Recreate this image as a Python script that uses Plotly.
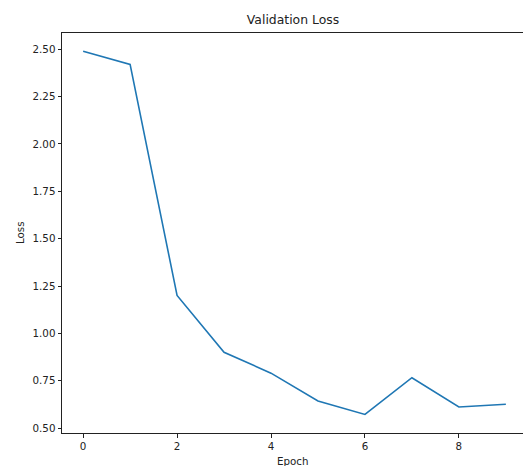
import plotly.graph_objects as go

epochs = [0, 1, 2, 3, 4, 5, 6, 7, 8, 9]
val_loss = [2.49, 2.42, 1.20, 0.90, 0.79, 0.643, 0.572, 0.766, 0.611, 0.626]
x_ticks = [0, 2, 4, 6, 8]
y_ticks = [0.50, 0.75, 1.00, 1.25, 1.50, 1.75, 2.00, 2.25, 2.50]
y_tick_labels = ["0.50", "0.75", "1.00", "1.25", "1.50", "1.75", "2.00", "2.25", "2.50"]

W, H = 523, 466
L, T, B = 62, 33, 466 - 433

def px_x(page_x):
    return (page_x - L) / (W - L)

def px_y(page_y):
    return (H - B - page_y) / (H - T - B)

fig = go.Figure()
fig.add_trace(go.Scatter(x=epochs, y=val_loss, mode="lines",
                         line=dict(color="#1f77b4", width=1.6), showlegend=False))

font = dict(family="DejaVu Sans", size=10.3, color="#222")
fig.update_layout(
    width=W, height=H,
    margin=dict(l=L, r=0, t=T, b=B, autoexpand=False),
    paper_bgcolor="white", plot_bgcolor="white",
    font=font,
    title=dict(text="Validation Loss", x=293 / W, xref="container", xanchor="center",
               y=1 - 20 / H, yref="container", yanchor="middle",
               font=dict(family="DejaVu Sans", size=12.4, color="#222")),
    xaxis=dict(range=[-0.45, 9.365], tickvals=x_ticks, showgrid=False, zeroline=False,
               showline=True, linecolor="#222", linewidth=1, mirror=True,
               ticks="outside", ticklen=3.5, tickwidth=1, tickcolor="#222",
               tickfont=font),
    yaxis=dict(range=[0.474, 2.586], tickvals=y_ticks, ticktext=y_tick_labels,
               showgrid=False, zeroline=False,
               showline=True, linecolor="#222", linewidth=1, mirror=False,
               ticks="outside", ticklen=3.5, tickwidth=1, tickcolor="#222",
               tickfont=font),
    annotations=[
        dict(text="Epoch", x=px_x(293), y=px_y(460.5), xref="paper", yref="paper",
             showarrow=False, xanchor="center", yanchor="middle",
             font=dict(family="DejaVu Sans", size=10.3, color="#222")),
        dict(text="Loss", x=px_x(20), y=px_y(233), xref="paper", yref="paper",
             showarrow=False, xanchor="center", yanchor="middle", textangle=-90,
             font=dict(family="DejaVu Sans", size=10.3, color="#222")),
    ],
)

fig.write_html(
    "out.html",
    config={"displayModeBar": False},
    post_script="document.body.style.margin='0';document.body.style.overflow='hidden';",
)
